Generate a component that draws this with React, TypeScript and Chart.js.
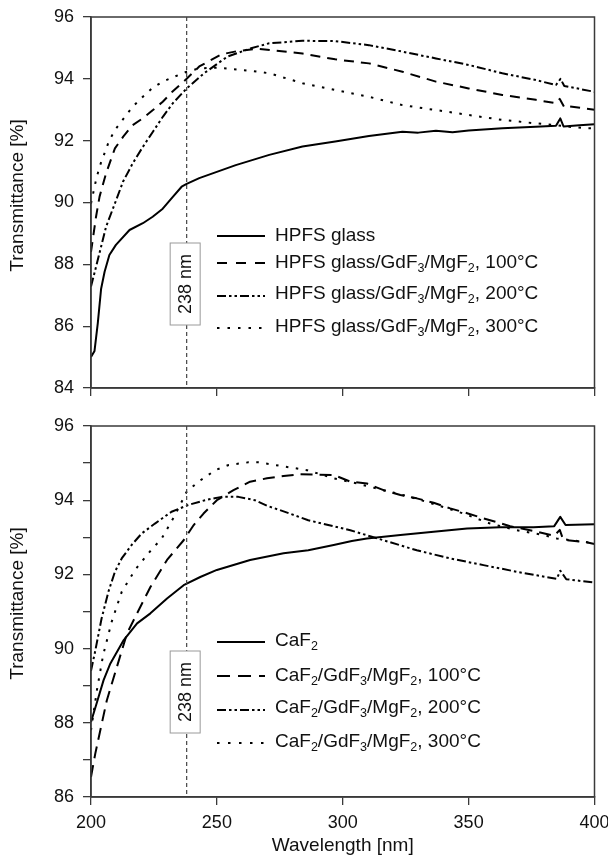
import React, { useEffect, useRef } from 'react';
import { Chart, registerables } from 'chart.js';

Chart.register(...registerables);

const FONT = "'Liberation Sans', Arial, Helvetica, sans-serif";
const MARKER_NM = 238;
const MARKER_LABEL = '238 nm';
const X_LABEL = 'Wavelength [nm]';
const Y_LABEL = 'Transmittance [%]';

// ---------- top panel: HPFS glass ----------
const HPFS_NM = [200, 200.7, 201.4, 202.7, 204, 205.4, 207.3, 209.9, 215.3, 220.6, 224.5, 228.5, 232.5, 236, 238, 243, 257.5, 270.8, 284, 297, 310.4, 323.7, 330, 337, 343.6, 350, 363.4, 376.7, 384.7, 386.4, 387.7, 389, 394, 400];
const HPFS_T = [85.0, 85.1, 85.2, 86.1, 87.2, 87.76, 88.3, 88.63, 89.11, 89.33, 89.54, 89.8, 90.18, 90.51, 90.6, 90.79, 91.21, 91.54, 91.81, 91.97, 92.15, 92.29, 92.26, 92.32, 92.27, 92.33, 92.4, 92.45, 92.48, 92.72, 92.46, 92.47, 92.5, 92.53];

const HPFS100_NM = [200, 202, 203.4, 206, 209.5, 212.8, 216.5, 220.5, 224.6, 228.5, 232.5, 238, 243, 251.7, 258.3, 266, 271, 284, 297, 310.4, 323.7, 337, 350, 363.4, 376.7, 384.7, 386.2, 388, 389, 400];
const HPFS100_T = [88.4, 89.54, 90.19, 90.95, 91.75, 92.13, 92.5, 92.72, 92.99, 93.26, 93.6, 94.0, 94.4, 94.79, 94.9, 94.97, 94.93, 94.82, 94.63, 94.5, 94.23, 93.91, 93.69, 93.48, 93.32, 93.21, 93.35, 93.08, 93.12, 93.0];

const HPFS200_NM = [200, 202, 204, 206, 209.5, 212.7, 216.6, 220.6, 224.6, 228.6, 232.5, 238, 244.9, 254.2, 263.6, 270.8, 284, 297, 310.4, 323.7, 337, 350, 363.4, 376.7, 384.7, 386.5, 388, 400];
const HPFS200_T = [87.28, 87.92, 88.57, 89.22, 89.97, 90.67, 91.27, 91.8, 92.29, 92.78, 93.21, 93.69, 94.18, 94.72, 94.99, 95.15, 95.23, 95.22, 95.09, 94.88, 94.66, 94.45, 94.18, 93.96, 93.8, 94.0, 93.77, 93.58];

const HPFS300_NM = [200, 202, 203.4, 205.4, 207.3, 210, 214, 216.6, 220.6, 224.6, 228.6, 232.5, 238, 243, 250.4, 258.3, 266.2, 270.8, 284, 297, 310.4, 323.7, 337, 350, 363.4, 376.7, 384.7, 390, 397, 400];
const HPFS300_T = [89.97, 90.73, 91.16, 91.6, 92.02, 92.4, 92.83, 93.1, 93.42, 93.72, 93.91, 94.05, 94.23, 94.34, 94.36, 94.3, 94.23, 94.18, 93.86, 93.64, 93.42, 93.15, 92.99, 92.83, 92.67, 92.56, 92.5, 92.45, 92.4, 92.4];

// ---------- bottom panel: CaF2 ----------
const CAF_NM = [200, 202.4, 205, 207.7, 213, 218.3, 223.6, 230.2, 236.8, 243.4, 250, 263.2, 276.5, 286.3, 296.4, 303.6, 309.6, 322.9, 336.1, 349.4, 362.6, 375.8, 384, 386.4, 388.5, 400];
const CAF_T = [88.02, 88.56, 89.15, 89.6, 90.23, 90.68, 90.95, 91.35, 91.71, 91.93, 92.12, 92.39, 92.57, 92.65, 92.79, 92.9, 92.97, 93.06, 93.15, 93.24, 93.27, 93.27, 93.3, 93.55, 93.33, 93.35];

const CAF100_NM = [200, 201.7, 203.7, 206.3, 210.3, 214.3, 218.3, 223.6, 230.2, 236.8, 240.8, 244.7, 250, 256.6, 263.2, 269.9, 276.5, 283.1, 296.4, 303, 309.6, 316.2, 322.9, 329.4, 336.1, 342.7, 349.4, 355.9, 362.6, 366.5, 375.8, 384, 386.2, 387.5, 389, 395.6, 400];
const CAF100_T = [86.54, 87.17, 87.8, 88.61, 89.51, 90.41, 90.95, 91.66, 92.39, 92.92, 93.33, 93.64, 94.0, 94.27, 94.5, 94.59, 94.65, 94.7, 94.68, 94.5, 94.45, 94.27, 94.14, 94.05, 93.93, 93.78, 93.65, 93.51, 93.38, 93.3, 93.17, 93.04, 93.2, 92.95, 92.92, 92.88, 92.82];

const CAF200_NM = [200, 201.6, 204.2, 206.9, 209.5, 212.2, 216.1, 220.1, 225.4, 232, 238.6, 245.3, 251.9, 258.5, 265.1, 269.9, 276.5, 286.3, 303, 316.2, 329.4, 342.7, 355.9, 369.2, 382.4, 385, 386.4, 388.8, 400];
const CAF200_T = [89.4, 89.91, 90.81, 91.53, 92.07, 92.43, 92.79, 93.1, 93.37, 93.69, 93.87, 94.0, 94.09, 94.09, 94.0, 93.85, 93.7, 93.46, 93.19, 92.92, 92.65, 92.43, 92.25, 92.07, 91.91, 91.88, 92.1, 91.87, 91.78];

const CAF300_NM = [200, 202.4, 204.8, 208.2, 212.2, 217.5, 222.8, 228.1, 233.4, 238, 242.7, 249.4, 254.7, 262.5, 266.5, 273, 285.8, 296.4, 305.7, 316.2, 326.8, 337.4, 348, 358.6, 369.2, 379.8, 385, 395.6, 400];
const CAF300_T = [87.8, 88.9, 89.82, 90.72, 91.53, 92.12, 92.57, 92.97, 93.6, 94.23, 94.5, 94.81, 94.95, 95.02, 95.02, 94.95, 94.81, 94.59, 94.45, 94.27, 94.09, 93.87, 93.64, 93.37, 93.19, 93.06, 92.97, 92.88, 92.84];

const TOP_LABELS = ['HPFS glass', 'HPFS glass/GdF_3/MgF_2, 100°C', 'HPFS glass/GdF_3/MgF_2, 200°C', 'HPFS glass/GdF_3/MgF_2, 300°C'];
const BOTTOM_LABELS = ['CaF_2', 'CaF_2/GdF_3/MgF_2, 100°C', 'CaF_2/GdF_3/MgF_2, 200°C', 'CaF_2/GdF_3/MgF_2, 300°C'];

const TOP_Y = { min: 84, max: 96, step: 2 };
const BOTTOM_Y = { min: 86, max: 96, step: 1 };
const X_RANGE = { min: 200, max: 400, step: 50 };

const AXIS_COLOR = '#3a3a3a';
const TEXT_COLOR = '#111';

type Panel = {
  series: { nm: number[]; t: number[]; dash: number[]; legendDash: number[] }[];
  labels: string[];
  yr: { min: number; max: number; step: number };
  height: number;
  padTop: number;
  plotH: number;
  showX: boolean;
  legendRows: number[];
  legendText: number[];
  boxCy: number;
  yTitleShift: number;
};

function drawRich(ctx: CanvasRenderingContext2D, text: string, x: number, y: number, size: number) {
  const parts = text.split(/_(\d)/);
  let cx = x;
  parts.forEach((p, i) => {
    if (!p) return;
    const sub = i % 2 === 1;
    const fs = sub ? size * 0.66 : size;
    ctx.font = `${fs}px ${FONT}`;
    ctx.fillText(p, cx, sub ? y + size * 0.3 : y);
    cx += ctx.measureText(p).width;
  });
}

function makeConfig(p: Panel): any {
  const W = 608;
  const left = 91;
  const right = 594.5;
  const deco = {
    id: 'deco',
    afterDatasetsDraw(chart: any) {
      const { ctx, chartArea: a, scales } = chart;
      ctx.save();
      // frame
      ctx.strokeStyle = AXIS_COLOR;
      ctx.lineWidth = 1.5;
      ctx.strokeRect(a.left, a.top, a.right - a.left, a.bottom - a.top);
      // marker line
      const mx = scales.x.getPixelForValue(MARKER_NM);
      ctx.strokeStyle = '#444';
      ctx.lineWidth = 1.2;
      ctx.setLineDash([4, 3]);
      ctx.beginPath();
      ctx.moveTo(mx, a.top);
      ctx.lineTo(mx, a.bottom);
      ctx.stroke();
      ctx.setLineDash([]);
      // marker box
      const bw = 30, bh = 82;
      const cy = a.top + p.boxCy;
      const cx = mx - 1.5;
      ctx.fillStyle = '#fff';
      ctx.fillRect(cx - bw / 2, cy - bh / 2, bw, bh);
      ctx.strokeStyle = '#9a9a9a';
      ctx.lineWidth = 1;
      ctx.strokeRect(cx - bw / 2, cy - bh / 2, bw, bh);
      ctx.translate(cx, cy);
      ctx.rotate(-Math.PI / 2);
      ctx.fillStyle = TEXT_COLOR;
      ctx.font = `18px ${FONT}`;
      ctx.textAlign = 'center';
      ctx.textBaseline = 'middle';
      ctx.fillText(MARKER_LABEL, 0, 1);
      ctx.restore();

      // legend
      ctx.save();
      const lx0 = a.left + 126;
      const lx1 = lx0 + 48;
      const tx = lx0 + 58;
      p.series.forEach((s, i) => {
        const ly = a.top + p.legendRows[i];
        ctx.strokeStyle = '#000';
        ctx.lineWidth = 2;
        ctx.setLineDash(s.legendDash);
        ctx.beginPath();
        ctx.moveTo(lx0, ly);
        ctx.lineTo(lx1, ly);
        ctx.stroke();
        ctx.setLineDash([]);
        ctx.fillStyle = TEXT_COLOR;
        ctx.textBaseline = 'middle';
        ctx.textAlign = 'left';
        drawRich(ctx, p.labels[i], tx, a.top + p.legendText[i], 19);
      });
      ctx.restore();

      // y title
      ctx.save();
      ctx.translate(18, (a.top + a.bottom) / 2 + p.yTitleShift);
      ctx.rotate(-Math.PI / 2);
      ctx.fillStyle = TEXT_COLOR;
      ctx.font = `19px ${FONT}`;
      ctx.textAlign = 'center';
      ctx.textBaseline = 'middle';
      ctx.fillText(Y_LABEL, 0, 0);
      ctx.restore();
    },
  };

  return {
    type: 'line',
    data: {
      datasets: p.series.map((s) => ({
        data: s.nm.map((x, i) => ({ x, y: s.t[i] })),
        borderColor: '#000',
        borderWidth: 2,
        borderDash: s.dash,
        pointRadius: 0,
        tension: 0,
        fill: false,
        borderJoinStyle: 'round',
      })),
    },
    options: {
      responsive: false,
      animation: false,
      events: [],
      layout: { padding: { left: 0, right: W - right, top: p.padTop, bottom: 0 } },
      plugins: { legend: { display: false }, tooltip: { enabled: false }, title: { display: false } },
      scales: {
        x: {
          type: 'linear',
          min: X_RANGE.min,
          max: X_RANGE.max,
          ticks: {
            stepSize: X_RANGE.step,
            display: p.showX,
            color: TEXT_COLOR,
            font: { family: FONT, size: 18 },
            padding: 7,
            maxRotation: 0,
          },
          grid: { display: true, drawOnChartArea: false, drawTicks: true, tickLength: 8, color: AXIS_COLOR, lineWidth: 1.3 },
          border: { display: true, color: AXIS_COLOR, width: 1.5 },
          title: {
            display: p.showX,
            text: X_LABEL,
            color: TEXT_COLOR,
            font: { family: FONT, size: 19 },
            padding: { top: 0, bottom: 4 },
          },
          afterFit: (s: any) => {
            s.height = p.height - p.padTop - p.plotH;
            s.paddingLeft = 0;
            s.paddingRight = 0;
          },
        },
        y: {
          type: 'linear',
          min: p.yr.min,
          max: p.yr.max,
          ticks: {
            stepSize: p.yr.step,
            color: TEXT_COLOR,
            font: { family: FONT, size: 18 },
            padding: 9,
            callback: (v: number) => (v % 2 === 0 ? String(v) : ''),
          },
          grid: { display: true, drawOnChartArea: false, drawTicks: true, tickLength: 8, color: AXIS_COLOR, lineWidth: 1.3 },
          border: { display: true, color: AXIS_COLOR, width: 1.5 },
          afterFit: (s: any) => {
            s.width = left;
            s.paddingTop = 0;
            s.paddingBottom = 0;
          },
        },
      },
    },
    plugins: [deco],
  };
}

const TOP_PANEL: Panel = {
  series: [
    { nm: HPFS_NM, t: HPFS_T, dash: [], legendDash: [] },
    { nm: HPFS100_NM, t: HPFS100_T, dash: [10, 7], legendDash: [10, 9] },
    { nm: HPFS200_NM, t: HPFS200_T, dash: [9, 3, 2.5, 3, 2.5, 3], legendDash: [9, 3, 2.5, 3, 2.5, 3] },
    { nm: HPFS300_NM, t: HPFS300_T, dash: [2.5, 7.5], legendDash: [2.5, 8] },
  ],
  labels: TOP_LABELS,
  yr: TOP_Y,
  height: 410,
  padTop: 17,
  plotH: 371,
  showX: false,
  legendRows: [219, 246, 279, 311],
  legendText: [219, 246, 277, 310],
  boxCy: 267,
  yTitleShift: -7,
};

const BOTTOM_PANEL: Panel = {
  series: [
    { nm: CAF_NM, t: CAF_T, dash: [], legendDash: [] },
    { nm: CAF100_NM, t: CAF100_T, dash: [12, 7], legendDash: [13, 8] },
    { nm: CAF200_NM, t: CAF200_T, dash: [9, 3, 2.5, 3, 2.5, 3], legendDash: [9, 3, 2.5, 3, 2.5, 3] },
    { nm: CAF300_NM, t: CAF300_T, dash: [2.5, 7.5], legendDash: [2.5, 8.5] },
  ],
  labels: BOTTOM_LABELS,
  yr: BOTTOM_Y,
  height: 451,
  padTop: 16,
  plotH: 371,
  showX: true,
  legendRows: [216, 250, 284, 317],
  legendText: [215, 250, 282, 316],
  boxCy: 266,
  yTitleShift: -8,
};

function PanelChart({ panel, top }: { panel: Panel; top: number }) {
  const ref = useRef<HTMLCanvasElement | null>(null);
  useEffect(() => {
    if (!ref.current) return;
    const chart = new Chart(ref.current, makeConfig(panel));
    return () => chart.destroy();
  }, [panel]);
  return (
    <canvas
      ref={ref}
      width={608}
      height={panel.height}
      style={{ position: 'absolute', left: 0, top, width: 608, height: panel.height, display: 'block' }}
    />
  );
}

export default function App() {
  return (
    <div style={{ position: 'absolute', left: 0, top: 0, width: 608, height: 861, background: '#fff', overflow: 'hidden' }}>
      <PanelChart panel={TOP_PANEL} top={0} />
      <PanelChart panel={BOTTOM_PANEL} top={410} />
    </div>
  );
}
